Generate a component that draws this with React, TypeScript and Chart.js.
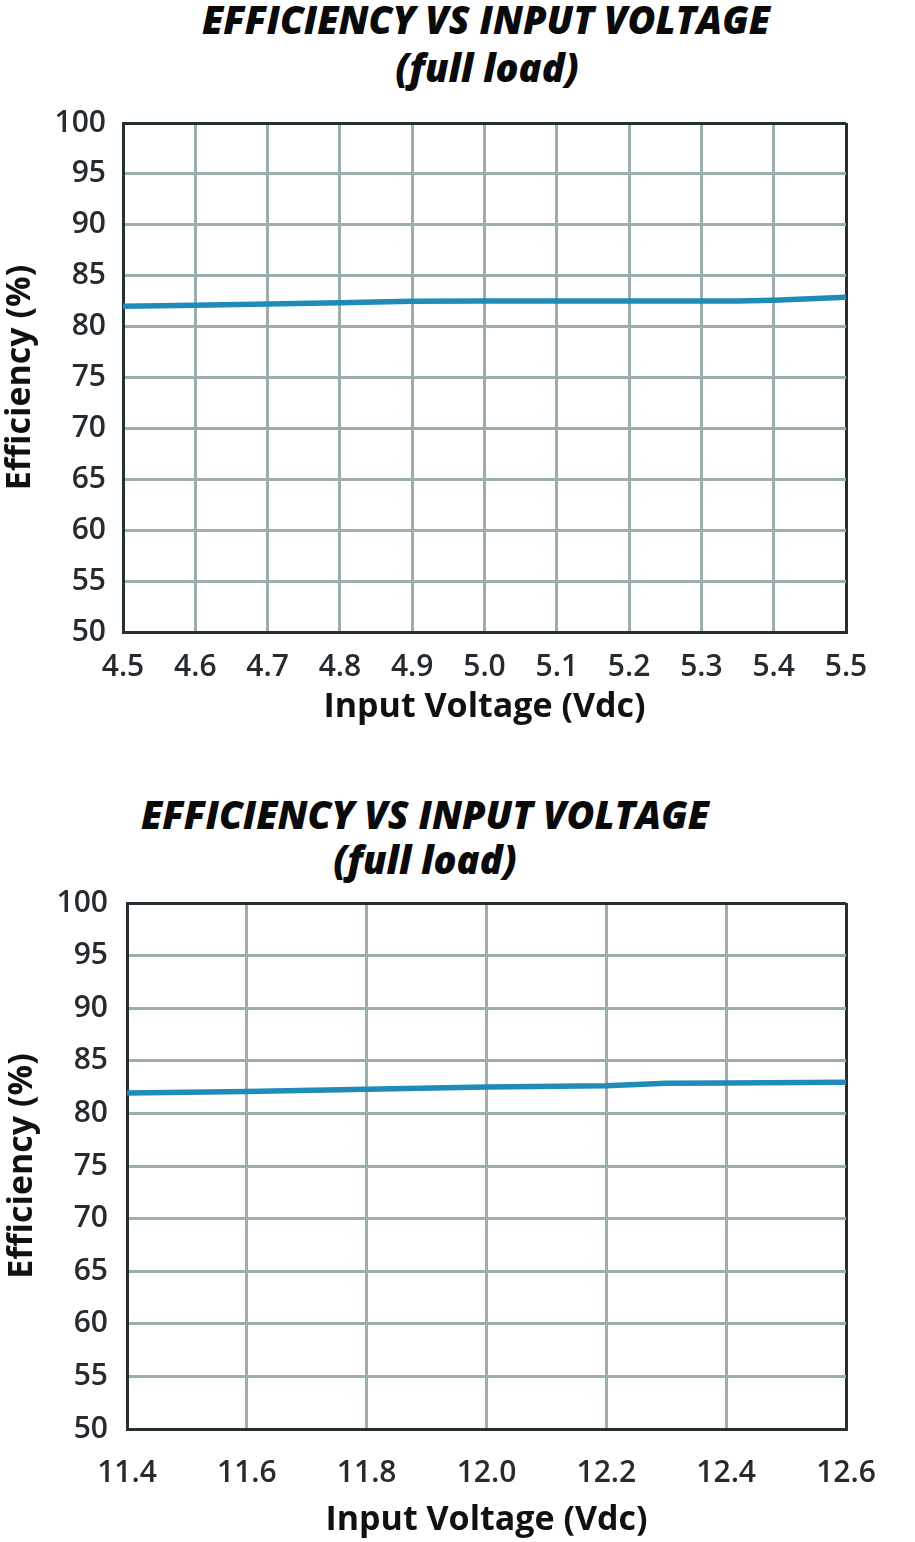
import React, { useEffect, useRef } from "react";
import { Chart, registerables } from "chart.js";

Chart.register(...registerables);

const titleLine1 = "EFFICIENCY VS INPUT VOLTAGE";
const titleLine2 = "(full load)";
const xAxisTitle = "Input Voltage (Vdc)";
const yAxisTitle = "Efficiency (%)";

const voltage5 = [4.5, 4.6, 4.7, 4.8, 4.9, 5.0, 5.1, 5.2, 5.3, 5.35, 5.4, 5.5];
const efficiency5 = [82.0, 82.1, 82.22, 82.35, 82.5, 82.52, 82.52, 82.52, 82.52, 82.52, 82.6, 82.88];

const voltage12 = [11.4, 11.6, 11.8, 12.0, 12.2, 12.3, 12.4, 12.6];
const efficiency12 = [81.95, 82.07, 82.3, 82.52, 82.63, 82.86, 82.88, 82.95];

const LINE = "#1f8bb9";
const GRID = "#9cadad";
const BORDER = "#263034";
const TEXT = "#262b2f";

type Cfg = {
  xs: number[];
  ys: number[];
  xMin: number;
  xMax: number;
  xStep: number;
  top: number;
  height: number;
  areaTop: number;
  areaBottom: number;
  areaLeft: number;
  areaRight: number;
  tickPadX: number;
  tickPadY: number;
  xTitlePad: number;
  yTitlePad: number;
};

function EffChart({ cfg }: { cfg: Cfg }) {
  const ref = useRef<HTMLCanvasElement | null>(null);
  useEffect(() => {
    if (!ref.current) return;
    const c = cfg;
    const xAxisH = c.height - c.areaBottom;
    const chart = new Chart(ref.current, {
      type: "line",
      data: {
        datasets: [
          {
            data: c.xs.map((x, i) => ({ x, y: c.ys[i] })),
            borderColor: LINE,
            borderWidth: 5.5,
            pointRadius: 0,
            tension: 0,
            fill: false,
          },
        ],
      },
      options: {
        animation: false,
        responsive: false,
        devicePixelRatio: 1,
        layout: {
          padding: { top: c.areaTop, right: 915 - c.areaRight, left: 0, bottom: 0 },
        },
        plugins: { legend: { display: false }, tooltip: { enabled: false }, title: { display: false } },
        scales: {
          x: {
            type: "linear",
            min: c.xMin,
            max: c.xMax,
            afterFit: (s: any) => {
              s.height = xAxisH;
            },
            ticks: {
              stepSize: c.xStep,
              padding: c.tickPadX,
              color: TEXT,
              font: { family: "Open Sans", size: 30, weight: 600 },
              maxRotation: 0,
              autoSkip: false,
              callback: (v: any) => Number(v).toFixed(1),
            },
            grid: {
              drawTicks: false,
              lineWidth: 3,
              color: (ctx: any) => (ctx.index === ctx.chart.scales.x.ticks.length - 1 ? BORDER : GRID),
            },
            border: { display: true, color: BORDER, width: 3 },
            title: {
              display: true,
              text: xAxisTitle,
              color: "#111",
              font: { family: "Open Sans", size: 34, weight: 700 },
              padding: { top: 0, bottom: c.xTitlePad },
            },
          },
          y: {
            min: 50,
            max: 100,
            afterFit: (s: any) => {
              s.width = c.areaLeft;
            },
            ticks: {
              stepSize: 5,
              padding: c.tickPadY,
              color: TEXT,
              font: { family: "Open Sans", size: 30, weight: 600 },
            },
            grid: {
              drawTicks: false,
              lineWidth: 3,
              color: (ctx: any) => (ctx.tick && ctx.tick.value === 100 ? BORDER : GRID),
            },
            border: { display: true, color: BORDER, width: 3 },
            title: {
              display: true,
              text: yAxisTitle,
              color: "#111",
              font: { family: "Open Sans", size: 34, weight: 700 },
              padding: { top: c.yTitlePad, bottom: 0 },
            },
          },
        },
      },
    } as any);
    return () => chart.destroy();
  }, [cfg]);
  return (
    <canvas
      ref={ref}
      width={915}
      height={cfg.height}
      style={{ position: "absolute", left: 0, top: cfg.top, width: 915, height: cfg.height }}
    />
  );
}

const cfg1: Cfg = {
  xs: voltage5,
  ys: efficiency5,
  xMin: 4.5,
  xMax: 5.5,
  xStep: 0.1,
  top: 0,
  height: 760,
  areaTop: 123,
  areaBottom: 632,
  areaLeft: 123,
  areaRight: 846,
  tickPadX: 17,
  tickPadY: 17,
  xTitlePad: 32,
  yTitlePad: 0,
};

const cfg2: Cfg = {
  xs: voltage12,
  ys: efficiency12,
  xMin: 11.4,
  xMax: 12.6,
  xStep: 0.2,
  top: 760,
  height: 782,
  areaTop: 143,
  areaBottom: 669,
  areaLeft: 127,
  areaRight: 846,
  tickPadX: 26,
  tickPadY: 19,
  xTitlePad: 1,
  yTitlePad: 2,
};

const titleStyle = (top: number, center: number): React.CSSProperties => ({
  position: "absolute",
  top,
  left: center - 420,
  width: 840,
  textAlign: "center",
  fontFamily: "'Open Sans'",
  fontWeight: 800,
  fontStyle: "italic",
  fontSize: 38,
  lineHeight: "48px",
  color: "#0a0a0a",
  whiteSpace: "nowrap",
});

export default function App() {
  return (
    <div style={{ position: "absolute", left: 0, top: 0, width: 915, height: 1542, background: "#fff", overflow: "hidden" }}>
      <div style={titleStyle(-5, 486)}>{titleLine1}</div>
      <div style={titleStyle(43, 487)}>{titleLine2}</div>
      <EffChart cfg={cfg1} />
      <div style={titleStyle(790, 425)}>{titleLine1}</div>
      <div style={titleStyle(835, 425)}>{titleLine2}</div>
      <EffChart cfg={cfg2} />
    </div>
  );
}
